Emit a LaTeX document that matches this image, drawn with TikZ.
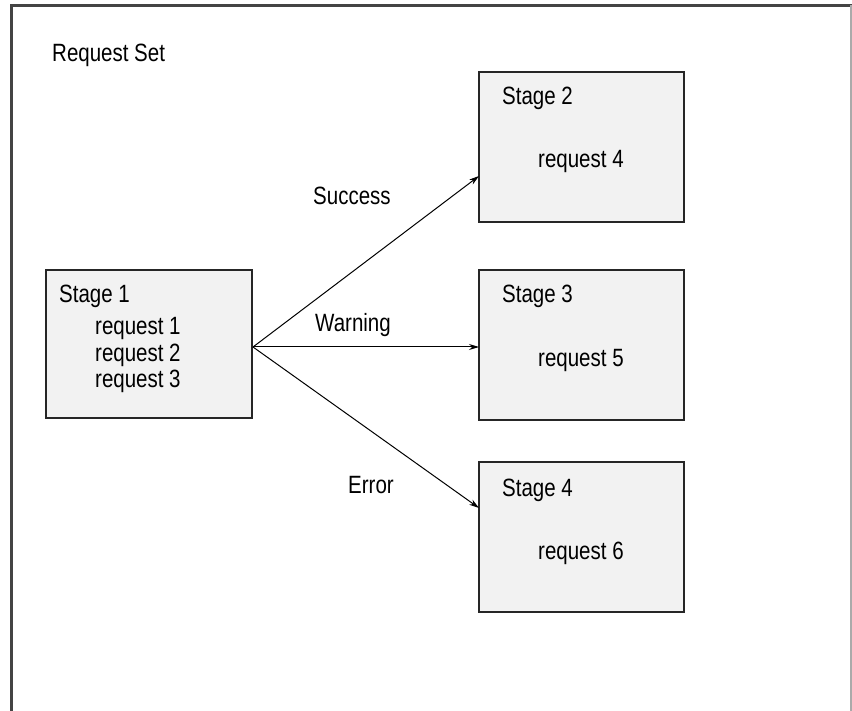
\documentclass[tikz,border=0pt]{standalone}
\usepackage{fontspec}
\setmainfont{Liberation Sans}[FakeStretch=0.82]
\usetikzlibrary{arrows.meta}
\definecolor{boxfill}{HTML}{F2F2F2}
\definecolor{framedark}{HTML}{444444}
\definecolor{framelight}{HTML}{AAAAAA}
\begin{document}
\begin{tikzpicture}[x=1pt,y=-1pt,
  stagebox/.style={draw=black!85, line width=1.5pt, fill=boxfill, inner sep=0pt},
  lbl/.style={anchor=base west, inner sep=0pt, font=\fontsize{25}{29}\selectfont},
  conn/.style={line width=1pt, -{Stealth[length=10pt,width=6pt]}}]
\useasboundingbox (0,0) rectangle (852,711);
\fill[white] (0,0) rectangle (852,711);
% outer frame
\draw[framedark, line width=3pt] (11,711) -- (11,5.5) -- (852,5.5);
\draw[framelight, line width=1.2pt] (851,5.5) -- (851,711);
\node[lbl] (title) at (52,62) {Request Set};
% boxes
\node[stagebox, minimum width=206pt, minimum height=148pt] (s1) at (149,344) {};
\node[stagebox, minimum width=205pt, minimum height=150pt] (s2) at (581.5,147) {};
\node[stagebox, minimum width=205pt, minimum height=150pt] (s3) at (581.5,345) {};
\node[stagebox, minimum width=205pt, minimum height=150pt] (s4) at (581.5,537) {};
% box texts
\node[lbl] (s1t) at (59,303) {Stage 1};
\node[lbl] (r1) at (95,335) {request 1};
\node[lbl] (r2) at (95,362) {request 2};
\node[lbl] (r3) at (95,388) {request 3};
\node[lbl] (s2t) at (502,105) {Stage 2};
\node[lbl] (r4) at (538,168) {request 4};
\node[lbl] (s3t) at (502,303) {Stage 3};
\node[lbl] (r5) at (538,367) {request 5};
\node[lbl] (s4t) at (502,496) {Stage 4};
\node[lbl] (r6) at (538,559) {request 6};
% connectors
\coordinate (o) at (253,347);
\coordinate (t2) at (479,176);
\coordinate (t3) at (479,347);
\coordinate (t4) at (479,508);
\draw[conn] (o) -- (t2);
\draw[conn] (o) -- (t3);
\draw[conn] (o) -- (t4);
\node[lbl] (succ) at (313,205) {Success};
\node[lbl] (warn) at (315,332) {Warning};
\node[lbl] (err) at (348,493) {Error};
\end{tikzpicture}
\end{document}
